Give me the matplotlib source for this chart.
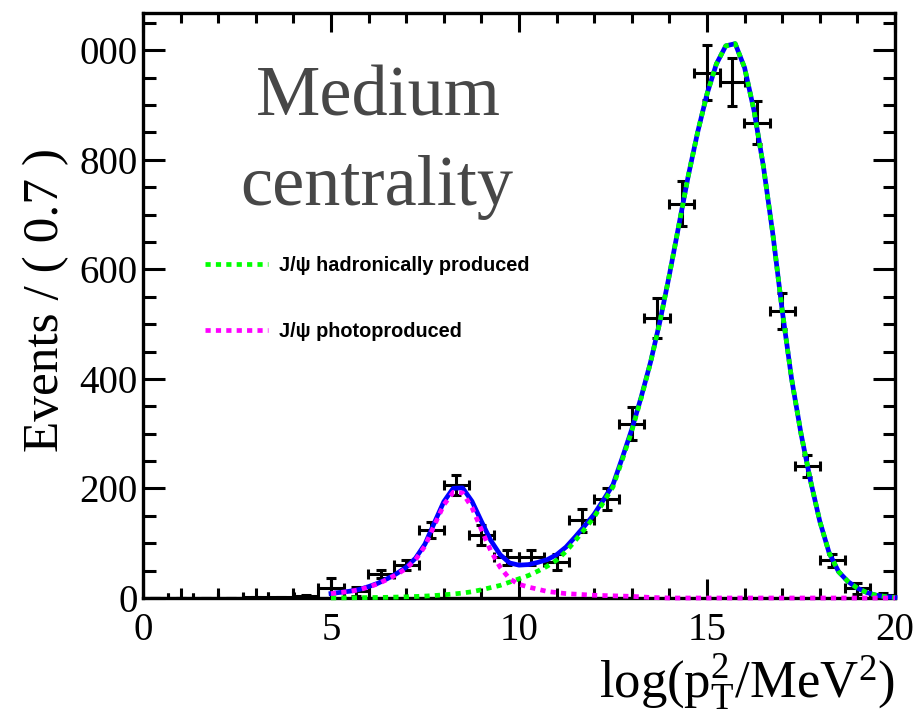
import numpy as np
import matplotlib
matplotlib.use('Agg')
import matplotlib.pyplot as plt
from matplotlib.lines import Line2D
from matplotlib.ticker import MultipleLocator

# binned data (30 bins over 0-20)
x_bins = [0.33, 1.0, 1.67, 2.33, 3.0, 3.67, 4.33, 5.0, 5.67, 6.33,
          7.0, 7.67, 8.33, 9.0, 9.67, 10.33, 11.0, 11.67, 12.33, 13.0,
          13.67, 14.33, 15.0, 15.67, 16.33, 17.0, 17.67, 18.33, 19.0, 19.67]
counts = [0, 0, 0, 0, 1, 1, 3, 18, 12, 44,
          60, 124, 206, 115, 74, 74, 66, 142, 181, 318,
          511, 720, 959, 942, 868, 524, 241, 69, 18, 5]
errs = [0, 0, 0, 0, 1, 1, 3, 18, 8, 7,
        9, 15, 18, 18, 14, 14, 14, 21, 20, 30,
        37, 41, 50, 44, 40, 32, 20, 12, 10, 4]

# fit components, every 0.25 from 5 to 20
curve_x = np.linspace(5.0, 20.0, 61)
hadronic = [0.2, 0.3, 0.4, 0.6, 0.8, 1.0, 1.3, 1.7, 2.2, 2.8,
            3.5, 4.5, 5.8, 7.3, 9.0, 11.5, 15, 19, 23, 29,
            35, 41, 49, 58, 69, 85, 105, 126, 148, 175,
            203, 253, 305, 365, 430, 505, 590, 680, 770, 850,
            920, 975, 1008, 1012, 968, 890, 788, 665, 525, 400,
            300, 215, 140, 82, 48, 30, 18, 10, 5, 2.5, 1]
photo = [8, 10, 12, 15, 20, 26, 34, 43, 54, 70,
         95, 133, 170, 193, 192, 165, 125, 86, 56, 35,
         25, 20, 16, 12, 10, 8, 7, 6, 5, 4.5,
         4, 3.5, 3, 2, 1, 0.5, 0, 0, 0, 0,
         0, 0, 0, 0, 0, 0, 0, 0, 0, 0,
         0, 0, 0, 0, 0, 0, 0, 0, 0, 0, 0]
total = np.array(hadronic) + np.array(photo)

legend_labels = ['J/\u03c8 hadronically produced', 'J/\u03c8 photoproduced']
y_ticks = [0, 200, 400, 600, 800, 1000]
y_tick_labels = ['0', '200', '400', '600', '800', '000']

plt.rcParams['font.family'] = ['Liberation Serif', 'DejaVu Serif']
plt.rcParams['mathtext.fontset'] = 'custom'
plt.rcParams['mathtext.rm'] = 'Liberation Serif'
plt.rcParams['mathtext.it'] = 'Liberation Serif:italic'

fig = plt.figure(figsize=(9.2, 7.19), dpi=100)
ax = fig.add_axes([143/920, 121/719, 752/920, 585/719])

dotted = (0, (1.1, 1.1))
ax.errorbar(x_bins, counts, xerr=0.333, yerr=errs, fmt='none', ecolor='black',
            elinewidth=2.2, capsize=3.5, capthick=2.2, zorder=2)
ax.plot(curve_x, total, color='#0000ff', lw=3.4, zorder=3, clip_on=False)
ax.plot(curve_x, hadronic, color='#00ff00', lw=3.4, ls=dotted, zorder=4, clip_on=False)
ax.plot(curve_x, photo, color='#ff00ff', lw=3.4, ls=dotted, zorder=5, clip_on=False)

ax.set_xlim(0, 20)
ax.set_ylim(0, 1068)
ax.xaxis.set_major_locator(MultipleLocator(5))
ax.xaxis.set_minor_locator(MultipleLocator(1))
ax.set_yticks(y_ticks, labels=y_tick_labels)
ax.yaxis.set_minor_locator(MultipleLocator(50))
ax.tick_params(which='both', direction='in', top=True, right=True, width=2.2, labelsize=28)
ax.tick_params(which='major', length=14)
ax.tick_params(which='minor', length=7)
ax.tick_params(axis='y', which='major', length=16)
ax.tick_params(axis='y', which='minor', length=9)
ax.tick_params(axis='x', pad=10)
ax.tick_params(axis='y', pad=4)
for s in ax.spines.values():
    s.set_linewidth(2.4)

handles = [Line2D([], [], color='#00ff00', lw=3.4, ls=dotted),
           Line2D([], [], color='#ff00ff', lw=3.4, ls=dotted)]
ax.legend(handles, legend_labels, loc='upper left',
          bbox_to_anchor=(205/920, 1 - 256/719), bbox_transform=fig.transFigure,
          frameon=False, prop=dict(family=['Liberation Sans', 'DejaVu Sans'], weight='bold', size=14.3),
          handlelength=3.15, handletextpad=0.6, labelspacing=2.35, borderpad=0, borderaxespad=0)

fig.text(378/920, 1 - 115/719, 'Medium', ha='center', va='baseline', fontsize=52, color='#474747')
fig.text(377/920, 1 - 205/719, 'centrality', ha='center', va='baseline', fontsize=52, color='#474747')

fig.text(46/920, 1 - 300/719, 'Events / ( 0.7 )', rotation=90, ha='center', va='center', fontsize=37)
fig.text(895/920, 1 - 697/719, r'$\mathrm{log(p_{T}^{2}/MeV^{2})}$', ha='right', va='baseline', fontsize=38)

fig.savefig('out.png', dpi=100)
